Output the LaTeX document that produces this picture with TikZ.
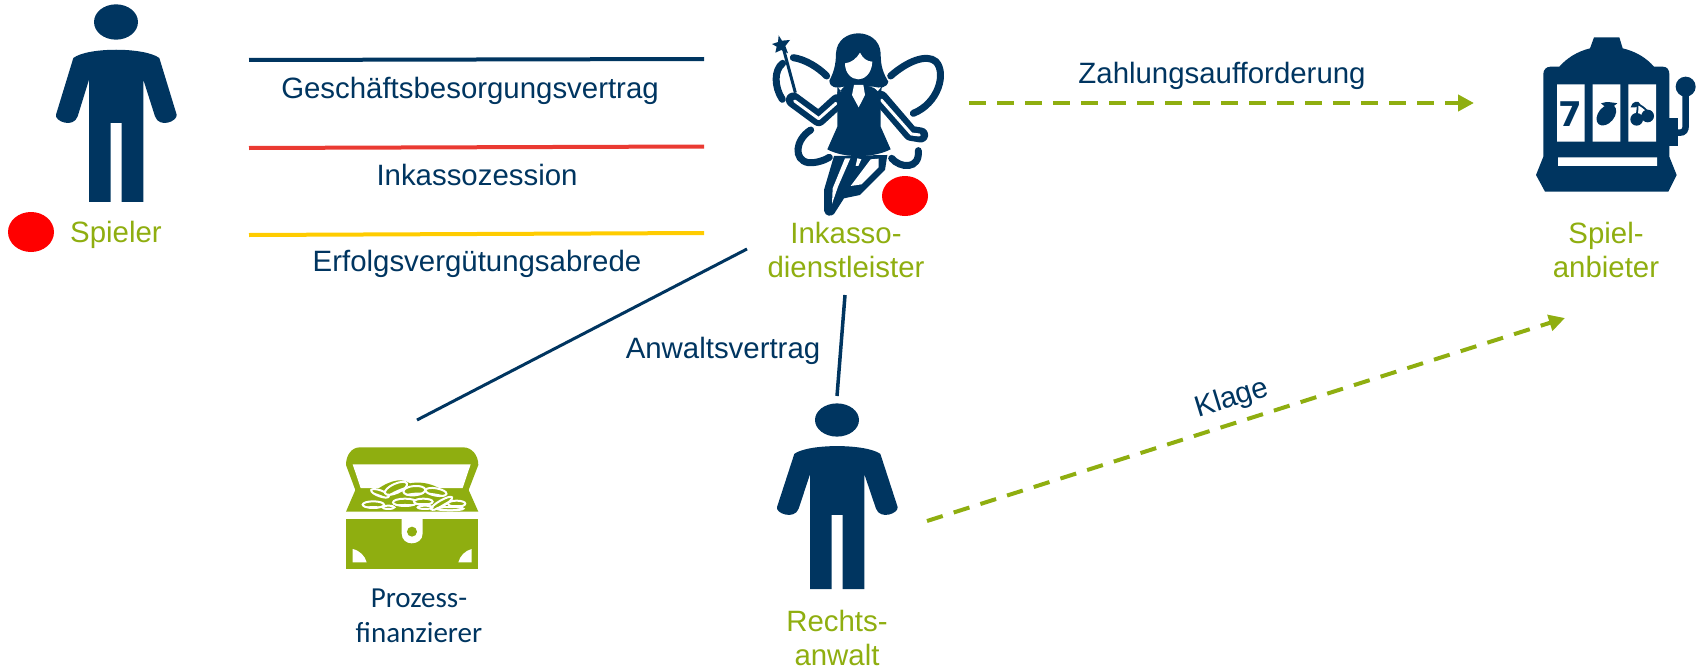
\documentclass[tikz,border=0pt]{standalone}
\usepackage{fontspec}
\usepackage{xcolor}
\usetikzlibrary{arrows.meta,shapes.geometric}
\setmainfont{Liberation Sans}
\newfontfamily\calfont{Carlito}
\newfontfamily\reelfont{DejaVu Sans}
\definecolor{navy}{HTML}{003560}
\definecolor{olive}{HTML}{8FAE10}
\definecolor{signal}{HTML}{FF0000}
\definecolor{lineR}{HTML}{EA3A32}
\definecolor{lineY}{HTML}{FFCC00}
\tikzset{
  lab/.style={text=olive, align=center, font=\fontsize{29.4}{34.5}\selectfont},
  labn/.style={text=navy, align=center, font=\fontsize{29.4}{34.5}\selectfont},
  labc/.style={text=navy, align=center, font=\calfont\fontsize{29}{35}\selectfont},
  lineN/.style={line width=4pt, draw=navy},
  lineT/.style={line width=3pt, draw=navy},
  lineD/.style={line width=4pt, draw=olive, dash pattern=on 16.5pt off 11.5pt, -{Triangle[length=16pt,width=16pt]}},
  dot/.style={ellipse, fill=signal, minimum width=46pt, minimum height=40pt, inner sep=0pt},
  icon/.style={scale=0.3333},
  wing/.style={line width=7pt, draw=navy, line cap=round},
  personpic/.pic={
    \fill[navy] (0,0) ellipse (66 and 53);
    \fill[navy] (-128,108) .. controls (-85,75) and (85,75) .. (130,108)
      -- (182,278) .. controls (185,298) and (130,320) .. (117,283)
      -- (82,173) -- (82,540) -- (17,540) -- (17,303) -- (-16,303) -- (-16,540) -- (-81,540) -- (-81,173)
      -- (-115,283) .. controls (-128,320) and (-185,298) .. (-180,278) -- cycle;
  },
  fairypic/.pic={
    % wings
    \draw[wing] (97,238) .. controls (72,200) and (72,150) .. (98,130);
    \draw[wing] (130,113) .. controls (165,118) and (205,142) .. (230,168);
    \draw[wing] (422,168) .. controls (470,125) and (530,100) .. (558,125)
      .. controls (590,160) and (565,250) .. (490,280);
    \draw[wing] (182,330) .. controls (135,360) and (130,420) .. (175,428) .. controls (200,430) and (225,420) .. (238,412);
    \draw[wing] (425,415) .. controls (450,445) and (510,450) .. (505,392);
    % wand
    \draw[navy, line width=3pt] (136,218) -- (100,85);
    \fill[navy] (86,46) -- (96,62) -- (120,60) -- (106,78) -- (114,100) -- (94,90) -- (76,98) -- (80,80) -- (66,72) -- (84,66) -- cycle;
    % arms
    \draw[navy, line width=15pt, line join=round, line cap=round] (130,240) -- (206,296) -- (262,245);
    \draw[white, line width=3pt, line join=round, line cap=round] (134,243) -- (206,296) -- (258,250);
    \draw[navy, line width=15pt, line join=round, line cap=round] (392,235) -- (482,340) -- (512,345);
    \draw[white, line width=3pt, line join=round, line cap=round] (394,240) -- (484,342) -- (508,345);
    % legs
    \fill[navy] (252,408) -- (222,510) -- (222,572) .. controls (225,590) and (245,590) .. (252,582)
      -- (282,535) -- (330,525) -- (405,450) -- (412,405) -- cycle;
    \fill[white] (285,415) -- (301,415) -- (264,500) -- (246,552) -- (248,505) -- cycle;
    \fill[white] (322,415) -- (334,418) -- (325,438) -- (317,438) -- cycle;
    \fill[white] (362,418) -- (386,416) -- (386,442) -- (335,493) -- (302,498) -- cycle;
    % dress and hair
    \fill[navy] (262,215) -- (392,215) -- (392,320) -- (422,388) .. controls (370,415) and (280,415) .. (232,388)
      -- (262,320) -- cycle;
    \fill[navy, rounded corners=12pt] (262,225) -- (392,225) -- (395,205) -- (300,190) -- (262,205) -- cycle;
    \fill[navy] (258,100) .. controls (262,20) and (388,20) .. (392,100)
      .. controls (392,140) and (400,160) .. (415,185) .. controls (410,205) and (390,205) .. (370,200)
      -- (280,200) .. controls (260,205) and (240,205) .. (238,182) .. controls (250,160) and (258,135) .. (258,100) -- cycle;
    \fill[white] (285,130) .. controls (305,128) and (320,115) .. (330,98) .. controls (338,115) and (352,125) .. (367,125)
      .. controls (365,165) and (340,178) .. (325,178) .. controls (305,178) and (285,160) .. (285,130) -- cycle;
    \fill[white] (312,195) -- (340,195) -- (345,225) -- (326,262) -- (306,225) -- cycle;
  },
  slotpic/.pic={
    \fill[navy] (210,85) -- (222,52) -- (298,52) -- (308,85) .. controls (350,95) and (380,115) .. (402,140)
      -- (428,140) .. controls (442,140) and (448,150) .. (448,162) -- (448,410) -- (470,465) -- (445,515) -- (75,515) -- (48,465) -- (70,410)
      -- (70,162) .. controls (70,150) and (78,140) .. (92,140) -- (118,140) .. controls (140,115) and (170,95) .. (210,85) -- cycle;
    \fill[white] (111,193) rectangle (194,365) (218,193) rectangle (301,365) (325,193) rectangle (408,365) (114,412) rectangle (411,438);
    \fill[navy] (448,295) rectangle (473,377);
    \draw[navy, line width=6.5pt] (473,338) -- (480,338) .. controls (492,338) and (497,330) .. (497,318) -- (497,205);
    \fill[navy] (497,200) circle (30);
    % reels
    \node[text=navy, font=\reelfont\bfseries\fontsize{34}{34}\selectfont, inner sep=0pt] (seven) at (152,281) {7};
    \fill[navy, rotate around={50:(259,285)}] (259,285) ellipse (36 and 24);
    \fill[navy] (243,250) .. controls (260,243) and (280,248) .. (292,250) .. controls (280,264) and (255,267) .. (243,250) -- cycle;
    \fill[navy] (350,298) circle (19) (383,288) circle (19);
    \draw[navy, line width=1.8pt] (350,285) .. controls (352,270) and (355,260) .. (350,250) (383,275) .. controls (375,265) and (365,258) .. (350,250);
    \fill[navy] (332,262) .. controls (335,243) and (358,240) .. (360,252) .. controls (350,264) and (340,264) .. (332,262) -- cycle;
  },
  chestpic/.pic={
    \fill[olive] (48,105) .. controls (48,75) and (65,52) .. (90,52) -- (400,52) .. controls (425,52) and (445,75) .. (445,105)
      -- (416,180) -- (445,245) -- (48,245) -- (76,180) -- cycle;
    \fill[white] (68,103) -- (422,103) -- (398,174) -- (92,174) -- cycle;
    \fill[olive] (125,190) .. controls (170,155) and (210,140) .. (240,160) .. controls (290,150) and (340,175) .. (360,200) -- (400,240) -- (100,240) -- cycle;
    \foreach \cx/\cy/\rx/\ry/\rot in {150/190/28/9/-20, 198/175/36/14/24, 253/182/33/14/5, 318/186/32/11/-10, 130/224/32/10/0, 380/221/26/9/0, 225/217/36/11/0, 280/215/28/9/0, 335/220/36/9/30, 285/232/22/5/0, 175/232/18/5/0, 360/236/40/5/0} {
      \draw[white, fill=olive, line width=2pt, rotate around={\rot:(\cx,\cy)}] (\cx,\cy) ellipse ({\rx} and {\ry});
      \fill[white, rotate around={\rot:(\cx,\cy)}] (\cx,\cy+\ry*0.75) ellipse ({\rx*0.85} and {\ry*0.3});
    }
    \fill[olive] (48,267) rectangle (445,417);
    \fill[white] (215,267) -- (215,310) .. controls (215,330) and (230,340) .. (245,340) .. controls (262,340) and (278,330) .. (278,310) -- (278,267) -- cycle;
    \fill[olive] (246,305) circle (15);
    \fill[white] (68,357) .. controls (90,362) and (105,378) .. (110,397) -- (68,397) -- cycle;
    \fill[white] (425,357) .. controls (405,362) and (390,378) .. (385,397) -- (425,397) -- cycle;
  }
}
\begin{document}
\begin{tikzpicture}[x=1pt,y=-1pt]
  \useasboundingbox (0,0) rectangle (1696,669);

  \pic[icon] at (116,22) {personpic};
  \pic[icon, yscale=0.94] at (837,420) {personpic};
  \pic[icon] at (750,20) {fairypic};
  \pic[icon] at (1520,20) {slotpic};
  \pic[icon] at (330,430) {chestpic};

  \node[dot] (dotS) at (31,232) {};
  \node[dot] (dotI) at (905,196) {};

  \node[lab] (spieler) at (116,235) {Spieler};
  \node[lab] (inkasso) at (846,250) {Inkasso-\\dienstleister};
  \node[lab] (anbieter) at (1606,250) {Spiel-\\anbieter};
  \node[lab] (anwalt) at (837,638) {Rechts-\\anwalt};
  \node[labc] (finanz) at (419,615.5) {Prozess-\\finanzierer};

  \coordinate (g1) at (249,60);
  \coordinate (g2) at (704,59);
  \coordinate (r1) at (249,148);
  \coordinate (r2) at (704,146.5);
  \coordinate (y1) at (249,235);
  \coordinate (y2) at (704,233);
  \coordinate (p1) at (747,249);
  \coordinate (p2) at (417,420);
  \coordinate (a1) at (845,295);
  \coordinate (a2) at (837,396);
  \coordinate (z1) at (969,103);
  \coordinate (z2) at (1474,103);
  \coordinate (k1) at (927,521);
  \coordinate (k2) at (1565,318);

  \draw[lineN] (g1) -- (g2);
  \draw[lineN, draw=lineR] (r1) -- (r2);
  \draw[lineN, draw=lineY] (y1) -- (y2);
  \draw[lineT] (p1) -- (p2);
  \draw[lineT, line width=3.5pt] (a1) -- (a2);
  \draw[lineD] (z1) -- (z2);
  \draw[lineD] (k1) -- (k2);

  \node[labn] (gbv) at (470,91) {Geschäftsbesorgungsvertrag};
  \node[labn] (zession) at (477,175) {Inkassozession};
  \node[labn] (erfolg) at (477,264) {Erfolgsvergütungsabrede};
  \node[labn] (vertrag) at (723,351) {Anwaltsvertrag};
  \node[labn] (zahlung) at (1222,76) {Zahlungsaufforderung};
  \node[labn, rotate=17] (klage) at (1232,399) {Klage};
\end{tikzpicture}
\end{document}
